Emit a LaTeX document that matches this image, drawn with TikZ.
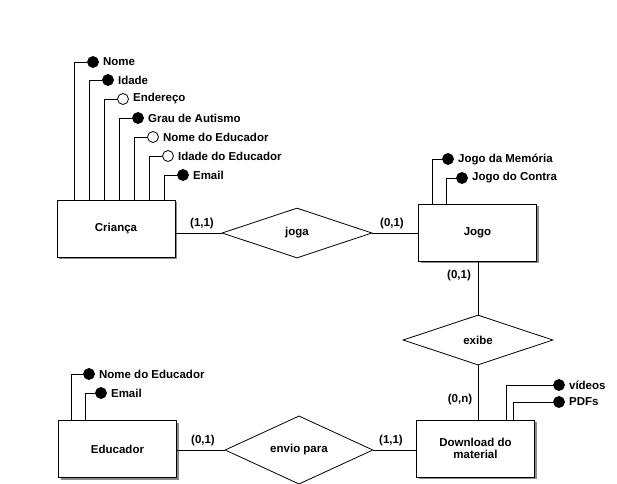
\documentclass[tikz,border=0pt]{standalone}
\usepackage{fontspec}
\setmainfont{Liberation Sans}
\usetikzlibrary{shapes.geometric,shadows}
\begin{document}
\begin{tikzpicture}[x=1pt,y=-1pt,
  every node/.style={font=\fontsize{11.5}{12.5}\selectfont\bfseries},
  entity/.style={draw,line width=1pt,fill=white,minimum width=118pt,minimum height=57pt,inner sep=0pt,align=center,
    drop shadow={shadow xshift=2pt,shadow yshift=-2pt,fill=gray!90,opacity=1}},
  rel/.style={draw,line width=0.8pt,diamond,fill=white,minimum width=150pt,minimum height=50pt,inner sep=0pt},
  attrf/.style={circle,draw,fill=black,line width=0.8pt,minimum size=11pt,inner sep=0pt},
  attro/.style={circle,draw,fill=white,line width=0.8pt,minimum size=11pt,inner sep=0pt},
  lab/.style={label={[inner sep=0pt,label distance=4pt]right:#1}},
  card/.style={inner sep=0pt},
  conn/.style={line width=0.8pt}]
\useasboundingbox (0,0) rectangle (617,483);

% entities
\node[entity] (crianca) at (116,228.5) {Criança};
\node[entity] (jogo) at (477.5,232.5) {Jogo};
\node[entity] (download) at (475.5,448.5) {Download do\\material};
\node[entity] (educador) at (117.5,449) {Educador};

% relationships
\node[rel] (joga) at (297,233) {joga};
\node[rel] (exibe) at (478,340) {exibe};
\node[rel,minimum width=148pt,minimum height=51pt] (envio) at (299,450) {envio para};

% connectors
\draw[conn] (joga.west -| crianca.east) -- (joga.west);
\draw[conn] (joga.east) -- (joga.east -| jogo.west);
\draw[conn] (exibe.north |- jogo.south) -- (exibe.north);
\draw[conn] (exibe.south) -- (exibe.south |- download.north);
\draw[conn] (envio.west -| educador.east) -- (envio.west);
\draw[conn] (envio.east) -- (envio.east -| download.west);

% cardinalities
\node[card] (c1) at (202,224) {(1,1)};
\node[card] (c2) at (392,224) {(0,1)};
\node[card] (c3) at (459,276) {(0,1)};
\node[card] (c4) at (460,400) {(0,n)};
\node[card] (c5) at (203,441) {(0,1)};
\node[card] (c6) at (391,441) {(1,1)};

% Crianca attributes
\node[attrf,lab=Nome] (a1) at (93,62) {};
\node[attrf,lab=Idade] (a2) at (108,80) {};
\node[attro,lab=Endereço] (a3) at (123,99) {};
\node[attrf,lab=Grau de Autismo] (a4) at (138,118) {};
\node[attro,lab=Nome do Educador] (a5) at (153,137) {};
\node[attro,lab=Idade do Educador] (a6) at (168,156) {};
\node[attrf,lab=Email] (a7) at (183,175) {};
\draw[conn] (a1.west) -| ([xshift=18pt]crianca.north west);
\draw[conn] (a2.west) -| ([xshift=33pt]crianca.north west);
\draw[conn] (a3.west) -| ([xshift=48pt]crianca.north west);
\draw[conn] (a4.west) -| ([xshift=63pt]crianca.north west);
\draw[conn] (a5.west) -| ([xshift=78pt]crianca.north west);
\draw[conn] (a6.west) -| ([xshift=93pt]crianca.north west);
\draw[conn] (a7.west) -| ([xshift=108pt]crianca.north west);

% Jogo attributes
\node[attrf,lab=Jogo da Memória] (j1) at (448,159) {};
\node[attrf,lab=Jogo do Contra] (j2) at (462,178) {};
\draw[conn] (j1.west) -| ([xshift=14pt]jogo.north west);
\draw[conn] (j2.west) -| ([xshift=28pt]jogo.north west);

% Download attributes
\node[attrf,lab=vídeos] (d1) at (559,385) {};
\node[attrf,lab=PDFs] (d2) at (559,402) {};
\draw[conn] (d1.west) -| ([xshift=90pt]download.north west);
\draw[conn] (d2.west) -| ([xshift=97pt]download.north west);

% Educador attributes
\node[attrf,lab=Nome do Educador] (e1) at (89,374) {};
\node[attrf,lab=Email] (e2) at (101,393) {};
\draw[conn] (e1.west) -| ([xshift=13pt]educador.north west);
\draw[conn] (e2.west) -| ([xshift=27pt]educador.north west);
\end{tikzpicture}
\end{document}
